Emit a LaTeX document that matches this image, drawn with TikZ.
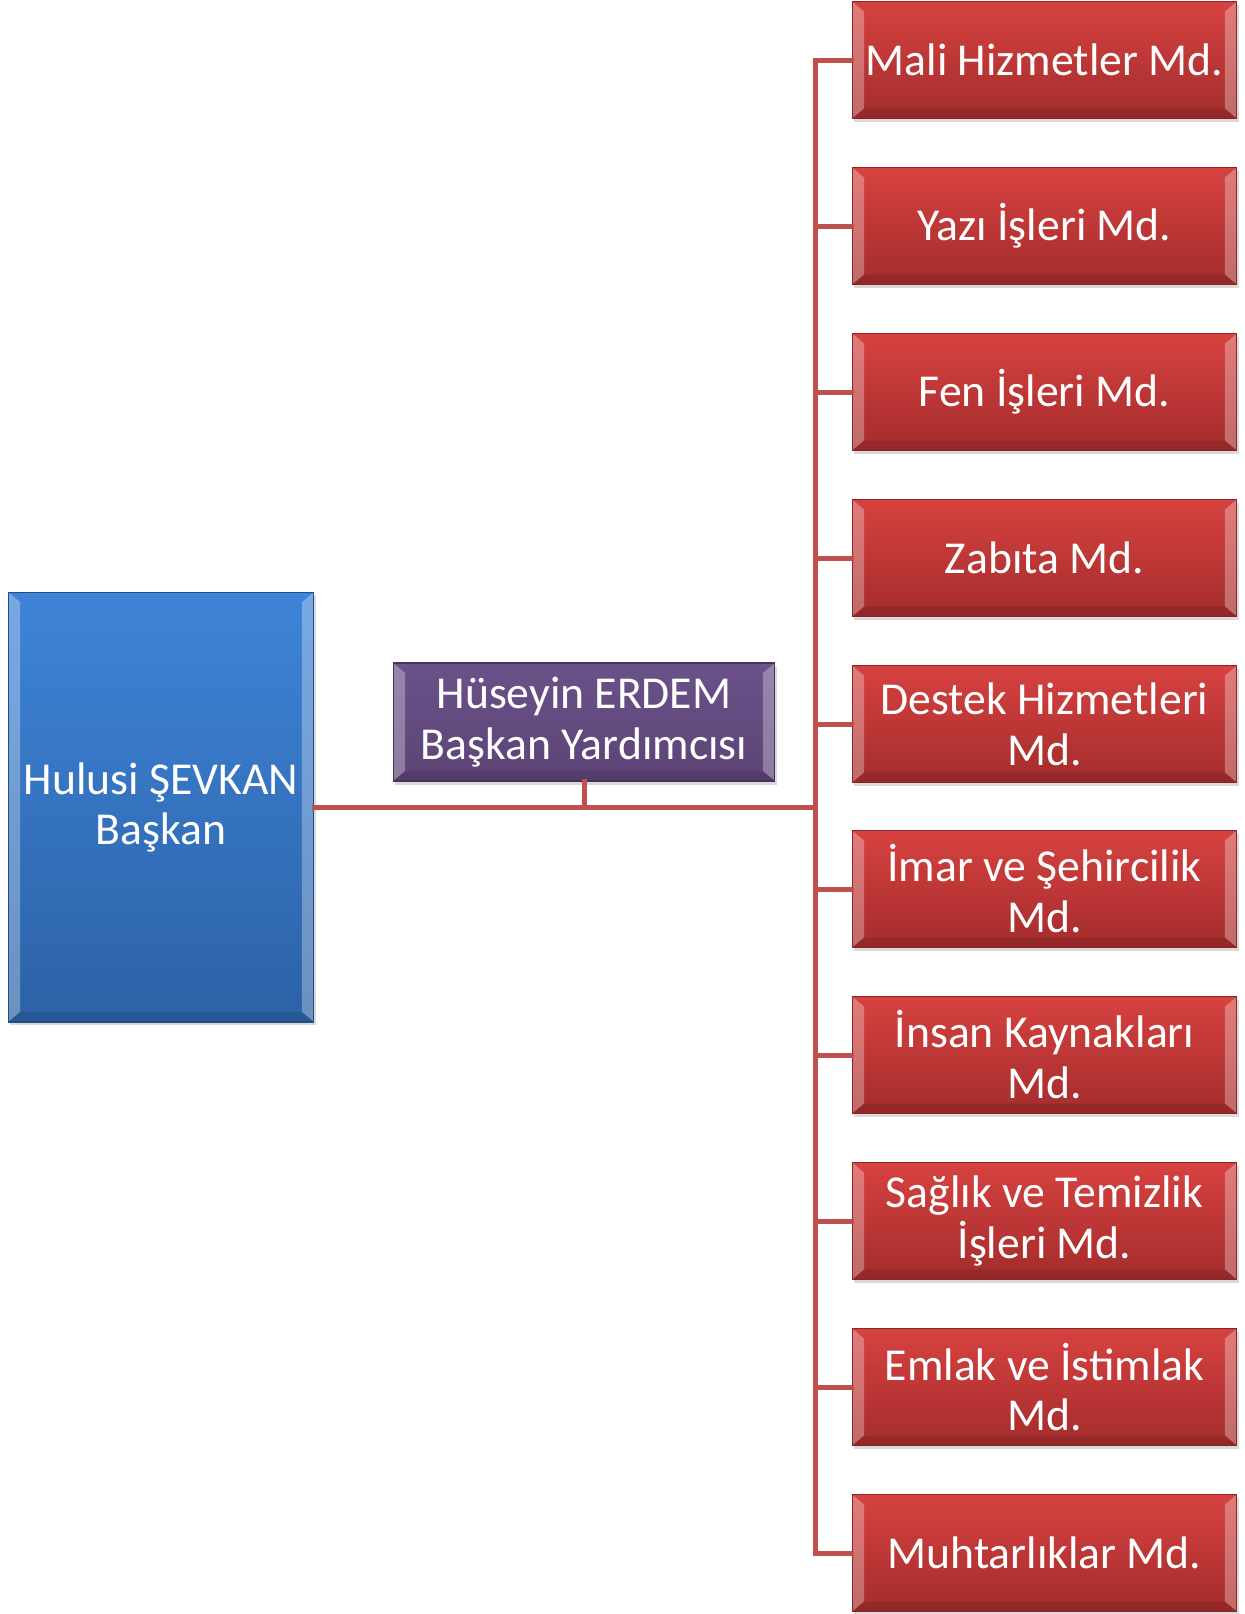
\documentclass[tikz,border=0pt]{standalone}
\usepackage{fontspec}
\setmainfont{Carlito}
\usetikzlibrary{shadows}
\definecolor{linkred}{RGB}{192,80,77}
\definecolor{redtop}{RGB}{214,66,64}
\definecolor{redbot}{RGB}{164,44,44}
\definecolor{bluetop}{RGB}{62,132,216}
\definecolor{bluebot}{RGB}{44,98,166}
\definecolor{purptop}{RGB}{106,82,138}
\definecolor{purpbot}{RGB}{92,68,118}
\tikzset{
  bevel/.style={path picture={
    \fill[white,opacity=0.30] (path picture bounding box.north west) -- (path picture bounding box.south west)
      -- ++(0.24cm,0.2cm) -- ([shift={(0.24cm,-0.2cm)}]path picture bounding box.north west) -- cycle;
    \fill[white,opacity=0.30] (path picture bounding box.north east) -- (path picture bounding box.south east)
      -- ++(-0.24cm,0.2cm) -- ([shift={(-0.24cm,-0.2cm)}]path picture bounding box.north east) -- cycle;
    \fill[black,opacity=0.10] (path picture bounding box.south west) -- (path picture bounding box.south east)
      -- ++(-0.24cm,0.2cm) -- ([shift={(0.24cm,0.2cm)}]path picture bounding box.south west) -- cycle;
  }},
  box/.style={rectangle, bevel, text=white, align=center, inner sep=0pt,
    drop shadow={shadow xshift=0.04cm, shadow yshift=-0.07cm, opacity=0.3}},
  chief/.style={box, top color=bluetop, bottom color=bluebot, draw=bluebot!80!black, line width=0.6pt,
    minimum width=6.12cm, minimum height=8.6cm, font=\fontsize{26}{28.5}\selectfont},
  deputy/.style={box, top color=purptop, bottom color=purpbot, draw=purpbot!75!black, line width=0.6pt,
    minimum width=7.64cm, minimum height=2.36cm, font=\fontsize{26}{29}\selectfont},
  unit/.style={box, top color=redtop, bottom color=redbot, draw=redbot!85!black, line width=0.6pt,
    minimum width=7.7cm, minimum height=2.34cm, font=\fontsize{26}{29}\selectfont},
  link/.style={draw=linkred, line width=0.1cm, line cap=rect}
}
\begin{document}
\begin{tikzpicture}[x=0.02cm, y=-0.02cm]
  \useasboundingbox (0,0) rectangle (1245,1614);
  \node[chief] (baskan) at (161,807) {Hulusi ŞEVKAN\\Başkan};
  \node[deputy] (yrd) at (584,722) {Hüseyin ERDEM\\Başkan Yardımcısı};
  \node[unit] (m1) at (1044.5,60) {Mali Hizmetler Md.};
  \node[unit] (m2) at (1044.5,226) {Yazı İşleri Md.};
  \node[unit] (m3) at (1044.5,392) {Fen İşleri Md.};
  \node[unit] (m4) at (1044.5,558) {Zabıta Md.};
  \node[unit] (m5) at (1044.5,724) {Destek Hizmetleri\\Md.};
  \node[unit] (m6) at (1044.5,889) {İmar ve Şehircilik\\Md.};
  \node[unit] (m7) at (1044.5,1055) {İnsan Kaynakları\\Md.};
  \node[unit] (m8) at (1044.5,1221) {Sağlık ve Temizlik\\İşleri Md.};
  \node[unit] (m9) at (1044.5,1387) {Emlak ve İstimlak\\Md.};
  \node[unit] (m10) at (1044.5,1553) {Muhtarlıklar Md.};
  \coordinate (trunk) at (815,807);
  \begin{scope}
    \draw[link] (baskan.east) -- (trunk);
    \draw[link] (yrd.south) -- (yrd.south |- trunk);
    \draw[link] (m1.west) -- (m1.west -| trunk) -- (m10.west -| trunk) -- (m10.west);
    \draw[link] (m2.west) -- (m2.west -| trunk);
    \draw[link] (m3.west) -- (m3.west -| trunk);
    \draw[link] (m4.west) -- (m4.west -| trunk);
    \draw[link] (m5.west) -- (m5.west -| trunk);
    \draw[link] (m6.west) -- (m6.west -| trunk);
    \draw[link] (m7.west) -- (m7.west -| trunk);
    \draw[link] (m8.west) -- (m8.west -| trunk);
    \draw[link] (m9.west) -- (m9.west -| trunk);
  \end{scope}
\end{tikzpicture}
\end{document}
